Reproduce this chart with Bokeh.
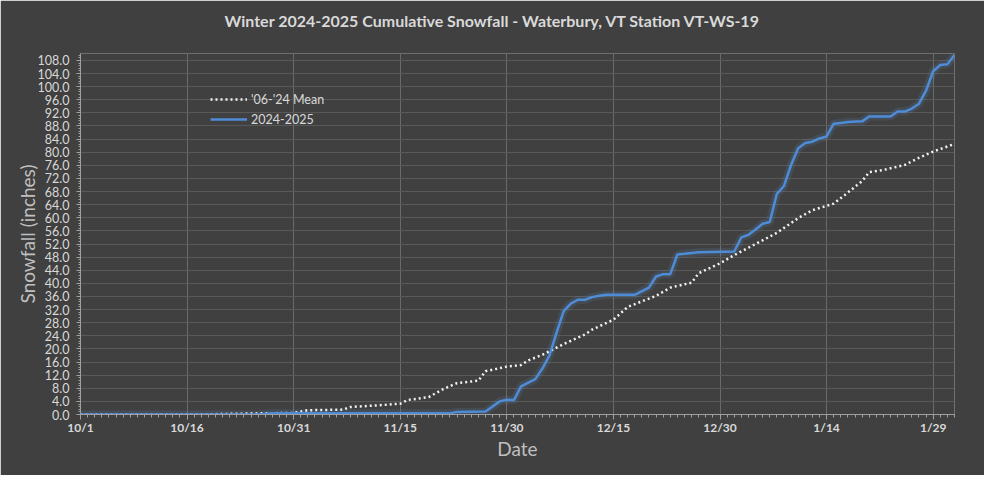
from bokeh.plotting import figure
from bokeh.models import FixedTicker, PrintfTickFormatter, Legend, LegendItem, Range1d
from bokeh.embed import file_html
from bokeh.resources import INLINE

# ---- data (day offsets from 10/1/2024) ----
season_days = [0, 25, 27, 52, 53, 57, 59, 60, 61, 62, 64, 65, 66, 67, 68, 69, 70, 71, 72, 73,
               74, 78, 80, 81, 82, 83, 84, 85, 87, 92, 93, 94, 95, 96, 97, 98, 99, 100, 101, 102,
               103, 104, 105, 106, 107, 108, 110, 111, 114, 115, 116, 117, 118, 119, 120, 121, 122, 123]
season_snow = [0, 0, 0.4, 0.4, 0.8, 0.9, 4.0, 4.5, 4.4, 8.6, 10.8, 14.0, 18.0, 25.0, 31.5, 33.8, 35.0, 35.0, 35.8, 36.2,
               36.5, 36.5, 38.7, 42.1, 42.8, 42.8, 48.8, 49.0, 49.5, 49.7, 54.0, 54.8, 56.4, 58.2, 58.7, 67.3, 69.7, 76.1, 81.2, 82.8,
               83.2, 84.2, 84.8, 88.7, 88.9, 89.2, 89.4, 90.9, 90.9, 92.4, 92.4, 93.3, 94.8, 98.8, 104.7, 106.6, 106.8, 109.6]

mean_days = [0, 16, 24, 30, 32, 37, 38, 42, 45, 46, 49, 51, 53, 56, 57, 60, 62, 63, 65, 66,
             68, 71, 72, 75, 77, 81, 83, 86, 87, 90, 92, 95, 98, 101, 103, 106, 108, 110, 111, 113,
             116, 118, 120, 123]
mean_snow = [0, 0, 0.3, 0.5, 1.3, 1.5, 2.3, 2.8, 3.3, 4.4, 5.3, 7.7, 9.6, 10.3, 13.2, 14.6, 15.1, 16.5, 18.2, 19.3,
             21.5, 24.4, 25.9, 28.9, 32.8, 36.2, 38.7, 40.2, 43.1, 46.1, 48.6, 52.0, 55.4, 59.9, 62.3, 64.3, 67.7, 71.2, 73.9, 74.6,
             76.1, 78.3, 80.2, 82.5]

x_tick_days = [0, 15, 30, 45, 60, 75, 90, 105, 120]
x_tick_labels = ["10/1", "10/16", "10/31", "11/15", "11/30", "12/15", "12/30", "1/14", "1/29"]
y_ticks = [0, 4, 8, 12, 16, 20, 24, 28, 32, 36, 40, 44, 48, 52, 56, 60, 64, 68, 72, 76,
           80, 84, 88, 92, 96, 100, 104, 108]
title_text = "Winter 2024-2025 Cumulative Snowfall - Waterbury, VT Station VT-WS-19"

BG = "#404040"
TXT = "#d9d9d9"
FONT = "Lato"

p = figure(width=984, height=475, output_backend="svg", toolbar_location=None,
           x_range=Range1d(0, 123), y_range=Range1d(0, 110.1),
           min_border_left=80, min_border_right=30, min_border_top=53, min_border_bottom=61,
           background_fill_color=BG, border_fill_color=BG)
p.outline_line_color = None

# second (blank) line lifts the title higher above the frame
p.title.text = title_text + "\n\u00a0"
p.title.align = "left"
p.title.offset = 144
p.title.text_font = FONT
p.title.text_font_size = "16px"
p.title.text_font_style = "bold"
p.title.text_color = TXT
p.title.standoff = 10

# axes
xa = p.xaxis[0]
xa.ticker = FixedTicker(ticks=x_tick_days, minor_ticks=list(range(0, 124)))
xa.major_label_overrides = {d: l for d, l in zip(x_tick_days, x_tick_labels)}
xa.axis_label = "Date"
ya = p.yaxis[0]
ya.ticker = FixedTicker(ticks=y_ticks, minor_ticks=[i * 0.8 for i in range(0, 138)])
ya.formatter = PrintfTickFormatter(format="%.1f")
ya.axis_label = "Snowfall (inches)"
for ax in (xa, ya):
    ax.axis_line_color = "#a0a0a0"
    ax.major_tick_line_color = "#a0a0a0"
    ax.minor_tick_line_color = "#a0a0a0"
    ax.major_tick_in = 0
    ax.minor_tick_in = 0
    ax.major_label_text_color = TXT
    ax.major_label_text_font = FONT
    ax.axis_label_text_color = "#bfbfbf"
    ax.axis_label_text_font = FONT
    ax.axis_label_text_font_size = "19px"
    ax.axis_label_text_font_style = "normal"
xa.major_tick_out = 5
xa.minor_tick_out = 3
xa.major_label_text_font_size = "12px"
xa.major_label_text_font_style = "bold"
xa.major_label_standoff = 0
xa.axis_label_standoff = -1
ya.major_tick_out = 4
ya.minor_tick_out = 2
ya.major_label_text_font_size = "12.5px"
ya.major_label_standoff = 7
ya.axis_label_standoff = -4

p.xgrid.grid_line_color = "#6a6a6a"
p.ygrid.grid_line_color = "#595959"
p.xgrid.grid_line_width = 1
p.ygrid.grid_line_width = 1

# lines
p.line(season_days, season_snow, line_color="#5b9bd5", line_width=8, line_alpha=0.15)
r_mean = p.line(mean_days, mean_snow, line_color="#f2f2f2", line_width=2.5, line_dash="2 3")
r_season = p.line(season_days, season_snow, line_color="#4f8cd8", line_width=2.5)

legend = Legend(items=[LegendItem(label="'06-'24 Mean", renderers=[r_mean]),
                       LegendItem(label="2024-2025", renderers=[r_season])],
                location=(125, 280))
legend.background_fill_alpha = 0
legend.border_line_alpha = 0
legend.label_text_color = TXT
legend.label_text_font = FONT
legend.label_text_font_size = "12.5px"
legend.glyph_width = 37
legend.glyph_height = 20
legend.label_height = 20
legend.spacing = 0
legend.padding = 5
legend.label_standoff = 4
p.add_layout(legend)

open("out.html", "w").write(file_html(p, INLINE))
